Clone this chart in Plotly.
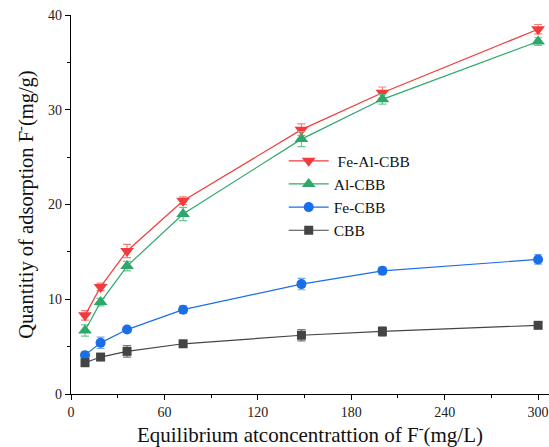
import plotly.graph_objects as go

x_vals = [9, 19, 36, 72, 148, 200, 300]

series_names = ["Fe-Al-CBB", "Al-CBB", "Fe-CBB", "CBB"]
fe_al_cbb = [8.3, 11.3, 15.1, 20.4, 27.9, 31.8, 38.5]
al_cbb = [6.7, 9.7, 13.5, 19.0, 26.9, 31.1, 37.2]
fe_cbb = [4.1, 5.4, 6.8, 8.9, 11.6, 13.0, 14.2]
cbb = [3.3, 3.9, 4.5, 5.3, 6.2, 6.6, 7.25]

fe_al_cbb_err = [0.5, 0.4, 0.7, 0.4, 0.6, 0.6, 0.5]
al_cbb_err = [0.6, 0.4, 0.5, 0.7, 0.8, 0.5, 0.4]
fe_cbb_err = [0.3, 0.6, 0.3, 0.4, 0.6, 0.4, 0.5]
cbb_err = [0.3, 0.3, 0.6, 0.3, 0.6, 0.5, 0.2]

x_ticks = [0, 60, 120, 180, 240, 300]
y_ticks = [0, 10, 20, 30, 40]

styles = [
    dict(color="#f03c3c", err="#f58080", symbol="triangle-down", size=12),
    dict(color="#2ea86a", err="#6cc798", symbol="triangle-up", size=12),
    dict(color="#1a6ee8", err="#7aa8f0", symbol="circle", size=10),
    dict(color="#444444", err="#777777", symbol="square", size=9),
]
values = [fe_al_cbb, al_cbb, fe_cbb, cbb]
errors = [fe_al_cbb_err, al_cbb_err, fe_cbb_err, cbb_err]

fig = go.Figure()
for name, ys, es, st in zip(series_names, values, errors, styles):
    fig.add_trace(go.Scatter(
        x=x_vals, y=ys, name=(" " + name if name == "Fe-Al-CBB" else name),
        mode="lines+markers",
        line=dict(color=st["color"], width=1.2),
        marker=dict(symbol=st["symbol"], size=st["size"], color=st["color"]),
        error_y=dict(type="data", array=es, visible=True, color=st["err"], thickness=1.2, width=4),
    ))

font_family = "Liberation Serif, Times New Roman, serif"
fig.update_layout(
    width=549, height=447,
    margin=dict(l=71, r=0, t=15, b=53, autoexpand=False),
    paper_bgcolor="white", plot_bgcolor="white",
    font=dict(family=font_family, size=14, color="#222222"),
    showlegend=True,
    legend=dict(x=0.445, y=0.659, xanchor="left", yanchor="top",
                bgcolor="rgba(0,0,0,0)", font=dict(size=15.5, family=font_family, color="#111111"),
                tracegroupgap=0, itemwidth=40),
    xaxis=dict(
        range=[0, 307], tickvals=x_ticks, ticktext=[str(v) for v in x_ticks],
        showline=True, linecolor="black", linewidth=1.2, mirror=False,
        ticks="outside", ticklen=5, tickwidth=1.2, tickcolor="black",
        minor=dict(tickvals=[30, 90, 150, 210, 270], ticks="outside", ticklen=3, tickcolor="black", tickwidth=1.2),
        showgrid=False, zeroline=False,
        tickfont=dict(size=14, family=font_family, color="#222222"),
        title=dict(text="Equilibrium atconcentrattion of F<sup>-</sup>(mg/L)", font=dict(size=21, family=font_family, color="#111111"), standoff=4),
    ),
    yaxis=dict(
        range=[0, 40], tickvals=y_ticks, ticktext=[str(v) for v in y_ticks],
        showline=True, linecolor="black", linewidth=1.2, mirror=False,
        ticks="outside", ticklen=5, tickwidth=1.2, tickcolor="black",
        minor=dict(tickvals=[5, 15, 25, 35], ticks="outside", ticklen=3, tickcolor="black", tickwidth=1.2),
        showgrid=False, zeroline=False,
        tickfont=dict(size=14, family=font_family, color="#222222"),
        title=dict(text="Quantitiy of adsorption F<sup>-</sup>(mg/g)", font=dict(size=20.5, family=font_family, color="#111111"), standoff=8),
    ),
)

fig.write_html("out.html", config={"displayModeBar": False},
               post_script="document.body.style.margin='0px';document.body.style.overflow='hidden';")
